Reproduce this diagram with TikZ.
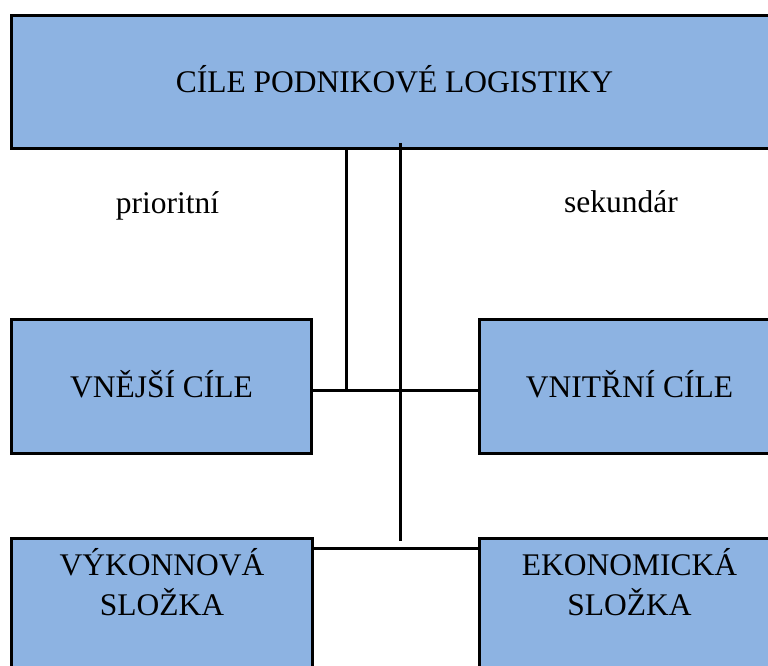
\documentclass[tikz,border=0pt]{standalone}
\usepackage{fontspec}
\setmainfont{Liberation Serif}
\definecolor{boxblue}{HTML}{8DB3E2}
\begin{document}
\begin{tikzpicture}[x=1pt,y=-1pt,
  box/.style={draw=black, line width=3pt, fill=boxblue, rectangle, inner sep=0pt, anchor=north west},
  txt/.style={font=\fontsize{31.5}{40}\selectfont, inner sep=0pt, anchor=base},
  conn/.style={line width=3pt, draw=black}]
\useasboundingbox (0,0) rectangle (768,666);
\clip (0,0) rectangle (768,666);
\fill[white] (0,0) rectangle (768,666);
% boxes
\node[box, minimum width=766pt, minimum height=133pt] (top) at (10,14) {};
\node[box, minimum width=300pt, minimum height=134pt] (vne) at (10,318) {};
\node[box, minimum width=300pt, minimum height=134pt] (vni) at (478,318) {};
\node[box, minimum width=301pt, minimum height=134pt] (vyk) at (10,537) {};
\node[box, minimum width=300pt, minimum height=134pt] (eko) at (478,537) {};
% texts
\node[txt] (ttop) at (top.center |- 0,93) {CÍLE PODNIKOVÉ LOGISTIKY};
\node[txt] (tvne) at (vne.center |- 0,397) {VNĚJŠÍ CÍLE};
\node[txt] (tvni) at (vni.center |- 0,397) {VNITŘNÍ CÍLE};
\node[txt] (tvyk1) at (vyk.center |- 0,575) {VÝKONNOVÁ};
\node[txt] (tvyk2) at (vyk.center |- 0,615) {SLOŽKA};
\node[txt] (teko1) at (eko.center |- 0,575) {EKONOMICKÁ};
\node[txt] (teko2) at (eko.center |- 0,615) {SLOŽKA};
\node[txt] (prio) at (167.5,213) {prioritní};
\node[txt] (seku) at (621,212) {sekundár};
% connectors
\coordinate (j1) at (346,390);
\coordinate (a2) at (400,143);
\coordinate (b2) at (400,541);
\coordinate (h2) at (0,548);
\draw[conn] (top.south -| j1) -- (j1);
\draw[conn] (vne.east |- j1) -- (vni.west |- j1);
\draw[conn] (a2) -- (b2);
\draw[conn] (vyk.east |- h2) -- (eko.west |- h2);
\end{tikzpicture}
\end{document}
